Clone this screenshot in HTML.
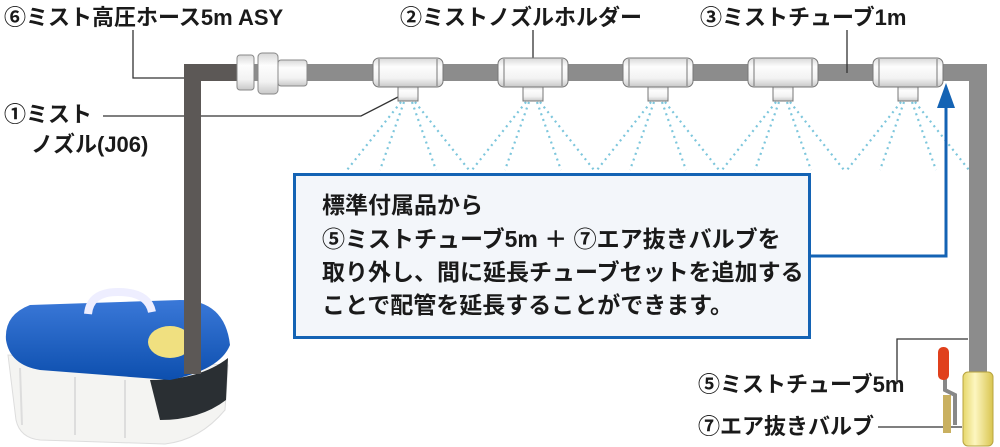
<!DOCTYPE html>
<html><head><meta charset="utf-8"><style>
html,body{margin:0;padding:0;background:#fff;width:1000px;height:447px;overflow:hidden}
svg text{font-family:"Liberation Sans","Noto Sans CJK JP",sans-serif;font-weight:bold;fill:#1a1a1a}
</style></head><body>
<svg width="1000" height="447" viewBox="0 0 1000 447" xmlns="http://www.w3.org/2000/svg">
<defs>
<linearGradient id="fit" x1="0" y1="0" x2="0" y2="1"><stop offset="0" stop-color="#d8d8d8"/><stop offset="0.3" stop-color="#fdfdfd"/><stop offset="0.7" stop-color="#f2f2f2"/><stop offset="1" stop-color="#c8c8c8"/></linearGradient>
<linearGradient id="yel" x1="0" y1="0" x2="1" y2="0"><stop offset="0" stop-color="#e6d76a"/><stop offset="0.4" stop-color="#fdf6c0"/><stop offset="1" stop-color="#d9c550"/></linearGradient>
<linearGradient id="blu" x1="0" y1="0" x2="0" y2="1"><stop offset="0" stop-color="#3a78d8"/><stop offset="1" stop-color="#0d4fae"/></linearGradient>
</defs>
<g stroke="#7cc6dc" stroke-width="2.2" stroke-dasharray="2 4" fill="none">
<g id="sp"><line x1="401" y1="102" x2="347" y2="170"/><line x1="404" y1="102" x2="380" y2="170"/><line x1="412" y1="102" x2="436" y2="170"/><line x1="415" y1="102" x2="469" y2="170"/></g>
<use href="#sp" x="125"/><use href="#sp" x="250"/><use href="#sp" x="375"/><use href="#sp" x="500"/>
</g>
<rect x="184" y="64" width="60" height="17" fill="#5c5856"/>
<rect x="244" y="64" width="743" height="17" fill="#8c8c8c"/>
<rect x="969" y="64" width="18" height="310" fill="#8c8c8c"/>
<g stroke="#333" stroke-width="1.3" fill="none">
<polyline points="133,30 133,78 190,78"/>
<polyline points="103,116 361,116 398,97"/>
<line x1="533" y1="30" x2="533" y2="72"/>
<line x1="847" y1="30" x2="847" y2="73"/>
<polyline points="897,384 897,339 968,339"/>
<line x1="878" y1="427" x2="962" y2="427"/>
</g>
<g stroke="#888" stroke-width="1" fill="url(#fit)">
<rect x="278" y="60" width="29" height="26" rx="3"/>
<rect x="258" y="53" width="20" height="41" rx="4"/>
<rect x="237" y="55" width="17" height="35" rx="3"/>
</g>
<g stroke="#777" stroke-width="1" fill="url(#fit)">
<g id="tee"><rect x="398" y="86" width="20" height="15"/><rect x="373" y="58" width="70" height="29" rx="6"/><line x1="379" y1="59" x2="379" y2="86"/><line x1="437" y1="59" x2="437" y2="86"/></g>
<use href="#tee" x="125"/><use href="#tee" x="250"/><use href="#tee" x="375"/><use href="#tee" x="500"/>
</g>
<rect x="294.5" y="174.5" width="515" height="163" fill="#f3f6fa" stroke="#1463b4" stroke-width="3"/>
<g font-size="23">
<text x="322" y="213">標準付属品から</text>
<text x="322" y="247">⑤ミストチューブ5m ＋ ⑦エア抜きバルブを</text>
<text x="322" y="280">取り外し、間に延長チューブセットを追加する</text>
<text x="322" y="313">ことで配管を延長することができます。</text>
</g>
<polyline points="811,256 946,256 946,100" fill="none" stroke="#1463b4" stroke-width="3"/>
<polygon points="946,83 937,108 955,108" fill="#1463b4"/>
<g font-size="22">
<text x="4" y="25">⑥ミスト高圧ホース5m ASY</text>
<text x="4" y="122">①ミスト</text>
<text x="31" y="152">ノズル(J06)</text>
<text x="400" y="25">②ミストノズルホルダー</text>
<text x="700" y="25">③ミストチューブ1m</text>
<text x="698" y="392">⑤ミストチューブ5m</text>
<text x="698" y="434">⑦エア抜きバルブ</text>
</g>
<rect x="943" y="395" width="8" height="38" fill="#c9b060"/>
<polyline points="945,375 945,390 955,395 955,425" fill="none" stroke="#888" stroke-width="4"/>
<rect x="938" y="347" width="11" height="33" rx="5" fill="#e0401c"/>
<rect x="963" y="372" width="30" height="74" rx="5" fill="url(#yel)" stroke="#b8a440"/>
<path d="M8,355 L16,420 Q20,438 40,440 L165,444 Q200,440 225,410 L228,365 Z" fill="#f4f4f2" stroke="#ddd"/>
<path d="M150,380 Q200,380 228,358 L226,400 Q200,420 160,420 Z" fill="#2a2f33"/>
<path d="M6,340 Q4,315 30,305 L180,300 Q225,300 230,345 Q220,370 170,380 L40,370 Q10,365 6,340 Z" fill="url(#blu)"/>
<path d="M88,314 Q90,292 118,292 Q148,292 152,312" fill="none" stroke="#eef" stroke-width="8"/>
<ellipse cx="170" cy="342" rx="22" ry="16" fill="#f0e080"/>
<g stroke="#ddd" stroke-width="2"><line x1="20" y1="368" x2="22" y2="425"/><line x1="75" y1="377" x2="75" y2="435"/><line x1="125" y1="380" x2="125" y2="438"/></g>
<rect x="184" y="64" width="17" height="310" fill="#5c5856"/>
</svg>
</body></html>
